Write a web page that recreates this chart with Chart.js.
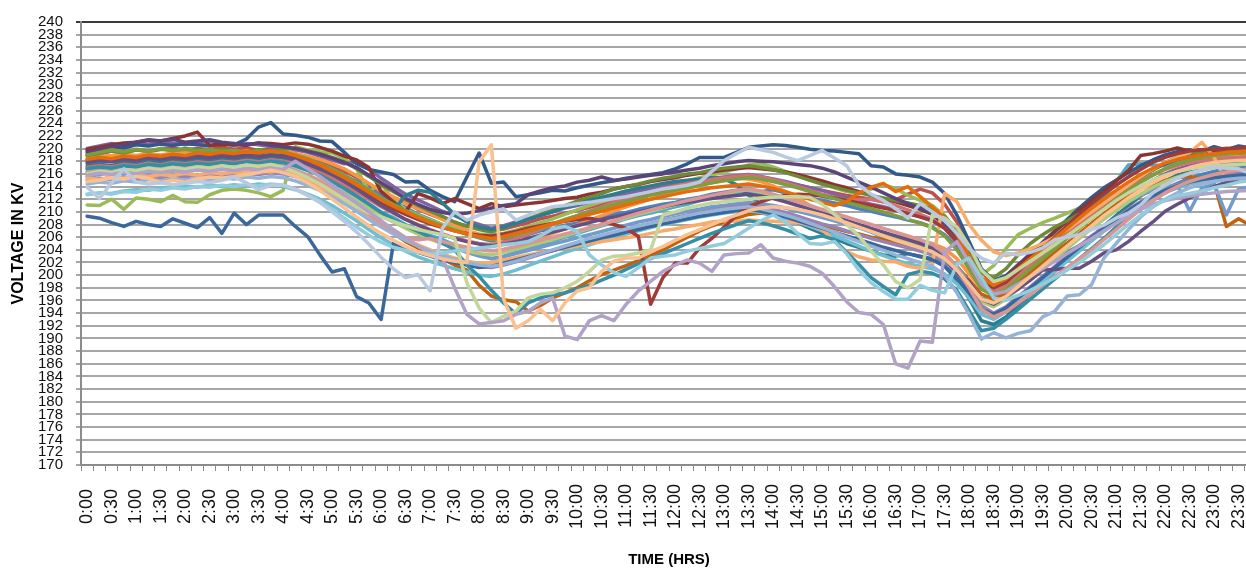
<!DOCTYPE html>
<html>
<head>
<meta charset="utf-8">
<script src="https://cdn.jsdelivr.net/npm/chart.js@4.4.0/dist/chart.umd.min.js"></script>
<style>
  html, body { margin: 0; padding: 0; background: #fff; overflow: hidden; }
  #wrap { position: absolute; left: 0; top: 0; width: 1257px; height: 569px; }
</style>
</head>
<body>
<div id="wrap"><canvas id="chart"></canvas></div>
<script>
const times = [
  '0:00','0:15','0:30','0:45','1:00','1:15','1:30','1:45','2:00','2:15','2:30','2:45',
  '3:00','3:15','3:30','3:45','4:00','4:15','4:30','4:45','5:00','5:15','5:30','5:45',
  '6:00','6:15','6:30','6:45','7:00','7:15','7:30','7:45','8:00','8:15','8:30','8:45',
  '9:00','9:15','9:30','9:45','10:00','10:15','10:30','10:45','11:00','11:15','11:30','11:45',
  '12:00','12:15','12:30','12:45','13:00','13:15','13:30','13:45','14:00','14:15','14:30','14:45',
  '15:00','15:15','15:30','15:45','16:00','16:15','16:30','16:45','17:00','17:15','17:30','17:45',
  '18:00','18:15','18:30','18:45','19:00','19:15','19:30','19:45','20:00','20:15','20:30','20:45',
  '21:00','21:15','21:30','21:45','22:00','22:15','22:30','22:45','23:00','23:15','23:30','23:45'
];

const yTicks = { min: 170, max: 240, step: 2 };

// one array per day (series), readings every 15 minutes
const v01 = [
  217.6,217.8,218.0,217.7,218.1,218.3,218.0,218.4,218.6,218.3,218.5,218.7,
  218.4,218.8,218.6,218.9,218.5,218.2,217.8,217.0,216.4,215.6,214.9,213.8,
  212.6,211.5,210.7,209.6,208.8,208.0,207.2,206.5,205.9,205.4,205.6,206.0,
  206.4,207.0,207.3,207.9,208.2,208.8,209.1,209.7,209.9,210.4,210.8,211.2,
  211.5,212.0,212.3,212.8,213.1,213.4,213.6,213.2,213.5,213.0,212.6,212.2,
  211.8,211.4,211.0,210.5,210.1,209.6,209.2,208.7,208.3,207.6,206.4,204.5,
  201.8,198.6,197.4,198.0,199.3,200.4,201.6,202.5,203.6,204.7,205.9,207.0,
  208.4,209.8,211.0,212.4,213.6,214.5,215.3,215.9,216.4,216.8,217.1,217.3
];
const v02 = [
  219.0,219.2,219.6,219.3,219.8,219.5,219.9,220.1,219.7,220.0,219.8,220.2,
  219.9,220.1,219.7,219.9,219.5,219.2,218.6,218.0,217.3,216.4,215.5,214.4,
  213.2,212.3,211.5,210.4,209.6,208.9,208.2,207.8,207.4,207.0,207.3,207.8,
  208.3,208.9,209.3,209.8,210.2,210.7,211.2,211.6,212.0,212.5,212.9,213.3,
  213.7,214.1,214.5,214.8,215.1,215.4,215.6,215.3,215.0,214.6,214.2,213.8,
  213.4,213.0,212.6,212.3,212.0,211.6,211.9,212.8,213.6,213.0,211.2,208.4,
  204.2,200.5,198.7,199.8,201.7,203.0,204.2,205.3,206.6,208.0,209.6,211.2,
  212.8,214.3,215.6,216.7,217.6,218.3,218.8,219.0,219.2,219.0,219.3,219.1
];
const v03 = [
  211.1,211.0,212.0,210.4,212.2,212.0,211.6,212.6,211.6,211.5,212.7,213.4,
  213.6,213.4,213.0,212.4,213.4,220.3,219.8,219.5,219.3,218.4,216.8,213.2,
  214.5,211.8,210.4,209.5,208.7,208.0,207.4,206.9,206.5,206.3,206.6,207.1,
  207.7,208.3,208.9,209.6,210.3,211.0,211.6,212.1,212.6,213.1,213.6,214.0,
  214.4,214.9,215.4,215.8,216.3,216.8,217.4,217.6,217.1,216.4,215.8,215.1,
  214.4,213.8,213.2,212.9,213.6,214.3,213.7,212.6,211.8,211.0,209.4,207.0,
  203.0,200.0,201.5,204.2,206.4,207.4,208.3,209.0,209.8,210.6,211.5,212.4,
  213.3,214.4,215.5,216.6,217.6,218.4,218.9,219.3,219.5,219.7,219.8,219.9
];
const v04 = [
  220.0,220.4,220.8,220.5,221.0,220.7,221.2,220.9,220.6,220.9,221.1,220.8,
  220.5,220.8,220.6,220.3,220.2,219.8,219.4,218.8,218.2,217.6,217.9,216.8,
  215.3,214.0,212.8,211.9,211.0,210.1,209.4,208.6,208.0,207.4,207.8,208.4,
  208.9,209.5,210.0,210.6,211.0,211.5,212.0,212.4,212.8,213.2,213.7,214.1,
  214.4,214.8,215.0,215.3,215.5,215.7,215.9,215.6,215.2,214.8,214.3,213.8,
  213.4,212.8,212.2,211.7,211.2,210.8,210.3,209.8,209.2,208.6,207.6,205.8,
  202.8,199.4,197.8,198.3,199.7,201.1,202.4,203.7,205.0,206.4,207.9,209.4,
  210.9,212.4,213.9,215.0,216.0,216.8,217.3,217.7,218.0,218.2,218.4,218.5
];
const v05 = [
  216.3,216.6,216.4,217.0,216.8,217.2,217.0,217.4,217.3,217.6,217.8,217.5,
  217.8,218.0,217.7,217.9,217.6,217.2,216.5,215.8,214.9,213.8,212.6,211.3,
  210.0,209.1,208.0,207.2,206.3,205.6,204.8,204.0,203.4,202.6,203.0,203.6,
  204.1,204.8,205.4,206.0,206.6,207.2,207.8,208.3,208.9,209.4,209.8,210.3,
  210.8,211.2,211.8,212.3,212.6,213.0,213.2,212.8,212.3,211.8,211.1,210.4,
  209.8,209.0,208.2,207.5,206.8,206.0,205.2,204.6,204.0,203.2,202.0,200.1,
  198.4,196.2,197.0,198.5,200.6,203.0,205.0,206.3,207.6,209.0,210.6,212.4,
  214.8,217.4,217.6,217.4,217.3,217.7,218.2,218.6,218.9,219.1,219.3,219.4
];
const v06 = [
  218.6,218.8,218.9,219.1,218.9,219.2,219.0,219.3,219.5,219.4,219.6,219.3,
  219.4,219.6,219.3,219.5,219.7,219.2,218.8,218.3,217.6,216.8,215.7,214.5,
  213.3,212.4,211.3,210.5,209.7,208.8,207.9,207.1,206.4,205.8,205.2,205.0,
  205.4,205.9,206.6,207.3,207.9,208.6,209.4,210.1,210.8,211.4,212.0,212.6,
  213.2,213.7,214.2,214.6,215.0,215.3,215.2,214.8,214.1,213.2,212.2,211.0,
  210.2,209.3,208.6,207.9,207.2,206.6,206.2,205.8,205.4,205.0,204.2,202.6,
  200.2,197.8,196.8,197.9,199.8,201.8,203.6,205.2,206.8,208.4,209.8,211.0,
  212.4,213.6,214.8,215.8,216.7,217.3,217.9,218.3,218.6,218.8,219.0,219.1
];
const v07 = [
  219.6,219.9,220.3,220.1,220.6,220.4,220.7,220.5,220.8,220.6,220.4,220.9,
  220.6,221.5,223.4,224.1,222.3,222.1,221.8,221.2,221.1,219.4,217.6,216.7,
  216.3,215.9,214.7,214.8,213.4,212.4,211.6,215.5,219.3,214.5,214.7,212.4,
  212.7,213.0,213.4,213.3,213.8,214.2,214.6,214.9,215.3,215.6,215.9,216.2,
  216.8,217.6,218.6,218.6,218.6,219.4,220.2,220.4,220.6,220.5,220.2,219.9,
  219.7,219.6,219.4,219.2,217.3,217.1,216.0,215.8,215.5,214.7,212.9,209.5,
  205.3,201.0,199.2,199.9,201.6,203.4,205.2,207.0,208.8,210.6,212.3,213.8,
  215.0,216.2,217.3,218.2,219.0,219.5,219.8,219.6,220.3,219.8,220.4,220.1
];
const v08 = [
  219.9,220.2,220.6,220.9,221.0,221.3,221.2,221.6,222.0,222.6,220.5,220.6,
  220.7,220.5,220.9,220.8,220.6,220.9,220.7,220.2,219.6,218.8,218.2,217.0,
  213.2,211.6,210.0,212.9,212.2,211.3,212.1,211.3,210.5,211.3,210.8,211.1,
  211.3,211.5,211.8,212.1,212.3,212.8,213.1,213.6,214.0,214.3,214.8,215.1,
  215.4,215.8,216.1,216.3,216.6,216.8,217.0,216.8,216.6,216.3,215.9,215.4,
  214.9,214.3,213.8,213.2,212.6,212.0,211.6,211.0,210.4,209.6,207.9,205.5,
  202.3,199.2,198.4,199.6,201.4,203.3,205.0,206.9,208.5,210.2,211.8,213.2,
  214.9,216.5,218.9,219.2,219.6,220.1,219.6,219.8,219.4,219.6,219.3,219.5
];
const v09 = [
  218.9,219.2,219.6,219.3,219.8,219.6,219.9,219.7,220.0,219.8,219.6,219.9,
  219.7,219.4,219.8,219.6,219.9,220.1,219.6,219.2,218.6,217.9,216.8,215.6,
  214.3,213.2,212.1,211.0,210.1,209.3,208.4,207.7,207.2,206.8,207.4,208.2,
  208.9,209.6,210.3,211.0,211.7,212.3,212.9,213.6,214.0,214.4,214.9,215.3,
  215.6,216.0,216.2,216.6,216.9,217.1,217.3,217.0,216.7,216.2,215.6,215.0,
  214.4,213.9,213.4,213.0,212.6,212.2,211.8,211.4,211.0,210.5,209.3,207.0,
  203.6,200.4,199.6,201.0,203.2,205.0,206.4,207.6,208.6,209.7,210.7,211.8,
  212.9,214.2,215.4,216.6,217.8,218.7,219.2,219.6,219.9,220.0,219.8,220.1
];
const v10 = [
  219.4,219.8,220.3,220.6,221.0,221.4,221.2,221.5,221.0,221.2,221.4,221.0,
  220.8,220.6,220.9,220.5,220.3,220.0,219.6,219.1,218.5,217.8,217.0,215.8,
  214.6,213.4,212.1,211.2,210.4,209.9,209.6,209.8,210.2,210.6,211.0,211.3,
  212.7,213.3,213.8,214.1,214.7,215.0,215.5,215.0,215.2,215.5,215.8,216.0,
  216.3,216.6,216.9,217.3,217.6,217.9,218.1,218.0,217.9,217.7,217.5,217.3,
  216.9,216.3,215.5,214.7,213.9,213.0,212.1,211.3,210.6,209.7,208.2,205.8,
  202.0,198.8,198.2,199.4,201.0,202.7,204.2,205.8,207.2,208.8,210.4,211.8,
  213.2,214.6,215.8,216.8,217.6,218.3,218.7,219.0,219.2,219.3,219.4,219.5
];
const v11 = [
  217.2,217.5,217.3,217.8,217.6,218.0,217.8,218.1,218.0,218.3,218.2,218.5,
  218.3,218.6,218.4,218.7,218.5,218.1,217.4,216.6,215.6,214.5,213.4,212.2,
  211.0,210.2,212.6,213.4,213.1,211.4,209.6,208.4,207.6,207.2,207.6,208.2,
  208.8,209.4,210.0,210.7,211.2,211.8,212.3,212.8,213.3,213.7,214.1,214.5,
  214.8,215.0,215.2,215.4,215.2,214.3,212.6,211.2,210.2,209.2,208.3,207.4,
  206.6,205.8,205.0,204.4,203.8,203.2,203.0,203.4,203.0,202.6,201.4,199.2,
  196.3,192.8,192.2,193.4,195.2,197.0,198.8,200.6,202.4,204.2,206.0,207.8,
  209.4,211.0,212.5,213.8,214.9,215.8,216.4,216.9,217.3,217.6,217.8,218.0
];
const v12 = [
  216.0,216.3,216.1,216.5,216.3,216.7,216.5,216.8,216.6,216.9,216.7,217.0,
  216.8,217.1,216.9,217.2,216.8,216.2,215.4,214.5,213.4,212.2,210.9,209.6,
  208.0,206.6,205.3,204.3,203.5,202.6,201.6,200.8,198.4,196.7,196.1,195.8,
  194.3,195.2,196.4,197.2,198.0,199.1,200.1,200.8,201.5,202.3,203.1,204.0,
  205.0,206.0,207.0,207.8,208.4,209.0,209.6,209.8,209.5,209.1,208.6,208.2,
  207.9,207.4,206.9,206.5,206.0,205.6,205.2,204.8,204.4,203.9,203.0,201.4,
  199.2,197.0,196.2,197.2,198.8,200.4,202.0,203.6,205.0,206.6,208.2,209.7,
  211.2,212.6,213.6,214.4,215.0,215.4,215.6,215.2,214.6,207.7,208.9,207.8
];
const v13 = [
  215.6,215.9,216.2,216.0,216.4,216.2,216.6,216.4,216.8,216.6,216.9,216.7,
  217.0,216.8,217.1,216.9,216.6,216.2,215.6,214.8,214.0,213.1,212.0,210.8,
  209.6,208.6,207.6,206.6,205.8,205.0,204.3,203.6,203.0,202.6,202.9,203.4,
  203.9,204.4,204.9,205.4,205.9,206.4,206.9,207.4,207.9,208.4,208.8,209.3,
  209.7,210.1,210.4,210.8,211.0,211.3,211.5,211.3,211.0,210.6,210.1,209.6,
  209.1,208.6,208.0,207.5,207.0,206.5,206.0,205.5,205.0,204.5,203.4,201.4,
  198.8,196.2,195.4,196.4,198.0,199.6,201.2,202.8,204.4,206.0,207.6,209.0,
  210.4,211.6,212.6,213.4,214.0,214.2,210.1,213.8,214.4,209.5,213.6,214.0
];
const v14 = [
  217.0,217.3,217.1,217.5,217.3,217.7,217.4,217.8,217.6,217.9,217.7,218.0,
  217.8,218.1,217.9,218.2,218.0,217.6,217.0,216.2,215.3,214.3,213.2,212.0,
  210.8,209.8,208.8,208.0,207.2,206.5,205.9,205.4,205.0,204.8,205.2,205.8,
  206.5,207.2,208.0,208.7,209.4,210.1,210.8,211.5,212.1,212.7,213.2,213.7,
  214.1,214.5,214.8,215.1,215.4,215.6,215.8,215.5,215.1,214.6,214.0,213.4,
  212.8,212.3,211.8,211.9,212.0,211.6,211.0,210.3,209.6,208.8,207.4,205.2,
  202.2,198.9,197.6,198.4,200.0,201.6,203.2,204.8,206.4,208.0,209.6,211.0,
  212.4,213.7,214.9,215.9,216.8,217.4,217.8,218.1,218.3,218.5,218.6,218.7
];
const v15 = [
  216.6,216.3,216.8,216.5,217.0,216.8,217.2,217.0,216.8,217.1,217.4,217.2,
  217.0,217.3,217.5,217.2,217.0,216.5,215.8,215.0,214.1,213.0,211.8,210.6,
  209.3,208.4,207.4,206.5,205.7,205.0,204.3,203.8,203.4,203.2,203.6,204.1,
  204.6,205.1,205.6,206.2,206.8,207.4,207.9,208.5,209.0,209.6,210.1,210.6,
  211.1,211.6,212.0,212.4,212.8,213.3,213.5,213.1,212.6,212.0,211.4,210.6,
  209.8,209.0,208.3,207.6,207.0,206.4,205.8,205.2,204.6,203.9,202.8,201.0,
  198.6,195.8,195.0,196.2,197.8,199.4,201.0,202.6,204.2,205.8,207.4,208.8,
  210.2,211.6,212.8,213.9,214.8,215.5,216.1,216.6,217.0,217.3,217.5,217.6
];
const v16 = [
  215.0,215.3,215.1,215.5,215.2,215.6,215.4,215.8,215.5,215.9,215.7,216.0,
  215.8,216.1,215.9,216.2,216.0,215.6,214.9,214.1,213.1,212.0,210.8,209.4,
  208.0,206.8,205.7,204.7,203.8,203.0,202.4,201.8,201.4,201.2,201.6,202.1,
  202.7,203.3,203.9,204.5,205.0,205.6,206.2,206.7,207.2,207.7,208.2,208.7,
  209.1,209.5,209.9,210.3,210.6,210.9,211.1,210.8,210.4,209.9,209.3,208.7,
  208.1,207.6,207.0,206.4,205.8,205.3,204.8,204.3,203.8,203.2,202.2,200.4,
  198.0,195.2,194.0,195.0,196.6,198.2,199.8,201.4,203.0,204.6,206.2,207.6,
  209.0,210.4,211.6,212.7,213.6,214.3,214.9,215.3,215.6,215.9,216.1,216.2
];
const v17 = [
  212.8,213.0,212.9,213.3,213.5,213.4,213.8,213.9,214.1,213.9,214.2,214.0,
  214.3,214.1,214.4,214.2,214.0,213.5,212.8,212.0,211.0,209.8,208.6,207.2,
  205.9,204.8,203.8,202.9,202.2,201.6,201.0,200.5,200.0,199.8,200.2,200.8,
  201.5,202.2,202.9,203.6,204.2,204.8,205.4,206.0,206.5,207.0,207.5,208.0,
  208.4,208.8,209.2,209.5,209.8,210.0,210.2,209.9,209.5,209.0,208.4,207.7,
  207.0,206.2,205.4,204.6,203.8,203.1,202.4,201.8,201.4,201.0,200.2,198.6,
  196.4,193.8,193.0,194.2,195.8,197.4,199.0,200.6,202.2,203.8,205.4,206.9,
  208.4,209.8,211.1,212.2,213.1,213.8,214.4,214.8,215.1,215.3,215.5,215.6
];
const v18 = [
  215.4,215.1,215.6,215.3,215.8,215.5,215.9,215.7,216.1,215.8,216.2,216.0,
  216.3,216.1,216.5,216.3,216.8,216.0,215.1,214.0,212.8,211.5,210.2,209.0,
  207.8,206.7,205.7,204.8,204.0,203.3,202.7,202.2,201.9,202.0,202.4,202.8,
  203.2,203.6,203.9,204.3,204.6,205.0,205.3,205.6,205.9,206.2,206.6,207.0,
  207.3,207.7,208.0,208.4,208.6,208.5,208.7,208.6,208.5,208.4,208.3,208.0,
  207.2,205.3,203.7,202.9,202.4,202.2,202.1,201.4,201.1,201.7,212.9,211.6,
  208.0,205.5,203.7,203.1,203.5,204.2,205.0,206.0,207.2,208.6,210.0,211.4,
  212.8,214.2,215.6,216.8,217.8,218.6,219.4,221.0,218.6,214.8,215.0,215.2
];
const v19 = [
  209.3,209.0,208.3,207.7,208.5,208.0,207.7,208.9,208.2,207.5,209.1,206.6,
  209.8,208.0,209.5,209.5,209.5,207.7,206.1,203.2,200.5,201.0,196.6,195.6,
  193.0,205.0,204.2,203.6,203.0,202.4,202.0,201.6,201.2,201.4,201.9,202.4,
  202.9,203.4,203.9,204.4,204.9,205.4,205.9,206.3,206.8,207.2,207.7,208.1,
  208.5,208.9,209.3,209.6,209.9,210.2,210.4,210.1,209.7,209.2,208.6,208.0,
  207.4,206.8,206.2,205.6,205.0,204.4,203.9,203.4,202.9,202.4,201.4,199.6,
  197.2,194.6,193.8,194.8,196.4,198.0,199.6,201.2,202.8,204.4,206.0,207.4,
  208.8,210.2,211.4,212.5,213.4,214.1,214.7,215.1,215.4,215.6,215.8,215.9
];
const v20 = [
  218.2,218.5,218.3,218.7,218.5,218.9,218.7,219.0,218.8,219.1,218.9,219.2,
  219.0,219.3,219.1,219.4,219.1,218.6,217.9,217.1,216.1,215.0,213.9,212.6,
  211.4,210.5,209.6,208.8,208.1,207.5,207.0,206.6,206.3,206.2,206.5,206.9,
  207.4,207.8,208.2,208.5,208.8,209.0,208.6,208.0,207.4,206.1,195.4,199.6,
  201.9,201.9,204.3,205.8,207.6,209.4,210.8,211.6,212.2,212.6,212.8,212.7,
  212.5,212.2,211.8,211.4,211.0,210.6,210.2,209.7,209.2,208.6,207.4,205.3,
  202.4,199.2,198.0,198.9,200.6,202.4,204.2,206.0,207.8,209.6,211.3,212.8,
  214.2,215.5,216.7,217.8,218.6,219.2,219.6,219.8,219.9,220.0,220.1,220.2
];
const v21 = [
  219.0,219.4,219.8,219.5,219.9,219.6,220.0,219.7,219.9,219.6,219.8,219.5,
  219.7,219.4,219.6,219.3,219.5,219.0,218.4,217.6,216.8,215.8,214.7,213.5,
  212.2,211.2,210.2,209.3,208.5,207.8,207.1,206.5,206.0,205.6,205.9,206.4,
  206.9,207.5,208.1,208.8,209.4,210.0,210.6,211.1,211.6,212.1,212.6,213.0,
  213.4,213.8,214.2,214.6,214.9,215.2,215.4,215.2,214.8,214.3,213.8,213.2,
  212.6,212.1,211.5,211.0,210.5,210.0,209.4,208.8,208.2,207.5,206.2,204.0,
  201.0,197.8,196.8,197.8,199.4,201.0,202.6,204.2,205.8,207.4,209.0,210.5,
  212.0,213.4,214.7,215.8,216.8,217.6,218.2,218.6,218.9,219.1,219.3,219.4
];
const v22 = [
  217.8,218.1,217.9,218.3,218.1,218.5,218.3,218.6,218.4,218.7,218.5,218.8,
  218.6,218.9,218.7,219.0,218.8,218.3,217.6,216.8,215.9,214.8,213.6,212.3,
  211.0,209.9,208.8,207.9,207.1,206.4,205.8,205.3,204.9,204.6,204.9,205.3,
  205.8,206.3,206.8,207.3,207.8,208.3,208.8,209.2,209.6,210.0,210.4,210.8,
  211.2,211.5,211.8,212.1,212.4,212.6,212.8,212.5,212.1,211.6,211.0,210.4,
  209.8,209.2,208.6,208.0,207.4,206.8,206.2,205.6,205.0,204.2,202.6,200.4,
  199.0,196.2,195.4,196.6,197.8,199.2,200.8,200.9,201.1,201.1,202.2,203.5,
  204.0,205.3,206.9,208.4,210.1,211.2,212.2,213.2,214.0,214.7,215.2,215.6
];
const v23 = [
  216.8,217.1,216.9,217.3,217.1,217.5,217.3,217.6,217.4,217.7,217.5,217.8,
  217.6,217.9,217.7,218.0,217.8,217.3,216.6,215.8,214.8,213.7,212.5,211.2,
  209.9,208.8,207.8,206.9,206.0,205.1,204.0,201.6,199.8,197.6,195.6,193.9,
  195.6,196.4,196.9,197.2,197.8,198.4,199.2,200.0,200.9,201.8,202.6,203.4,
  204.2,205.0,205.8,206.6,207.3,208.0,208.6,208.3,207.8,207.2,206.5,205.8,
  206.2,205.6,203.6,201.7,199.6,198.2,196.9,200.1,200.6,200.3,199.4,197.6,
  194.4,191.2,191.6,193.0,194.6,196.2,197.8,199.4,201.0,202.6,204.2,205.8,
  207.6,209.1,210.5,211.8,213.0,214.0,214.8,215.5,216.0,216.4,216.7,216.9
];
const v24 = [
  218.3,218.6,218.4,218.8,218.6,219.0,218.8,219.1,218.9,219.3,219.1,219.4,
  219.2,219.5,219.3,219.6,219.4,218.9,218.2,217.4,216.4,215.4,214.3,213.1,
  211.9,210.9,210.0,209.1,208.3,207.6,207.0,206.5,206.1,205.8,206.1,206.6,
  207.1,207.6,208.1,208.6,209.1,209.6,210.1,210.6,211.1,211.6,212.0,212.4,
  212.8,213.2,213.5,213.8,214.0,214.2,214.4,214.1,213.7,213.2,212.6,212.0,
  211.5,211.0,211.6,213.0,213.9,214.5,213.2,214.0,212.4,210.8,209.0,206.4,
  203.0,199.6,198.4,199.4,201.0,202.6,204.2,205.8,207.4,209.0,210.6,212.0,
  213.4,214.7,215.9,216.9,217.7,218.3,218.7,219.0,219.2,219.4,219.5,219.6
];
const v25 = [
  214.4,214.7,214.5,214.9,214.7,215.1,214.9,215.2,215.0,215.3,215.1,215.4,
  215.2,215.5,215.3,215.6,215.4,214.9,214.2,213.4,212.4,211.3,210.1,208.8,
  207.6,206.5,205.5,204.6,203.8,203.1,202.5,202.0,201.6,201.4,201.7,202.2,
  202.8,203.4,204.0,204.6,205.2,205.8,206.3,206.8,207.3,207.8,208.2,208.6,
  209.0,209.4,209.8,210.1,210.4,210.6,210.8,210.5,210.0,209.5,208.9,208.2,
  207.5,206.8,206.0,205.3,204.6,203.9,203.2,202.6,202.0,201.4,200.0,197.2,
  193.8,189.9,190.9,190.1,190.8,191.2,193.4,194.3,196.7,196.9,198.5,202.7,
  205.0,207.2,209.2,210.8,212.0,213.0,213.8,214.4,214.8,215.1,215.3,215.4
];
const v26 = [
  216.2,216.5,216.3,216.7,216.5,216.9,216.7,217.0,216.8,217.1,216.9,217.2,
  217.0,217.3,217.1,217.4,217.2,216.6,215.8,214.8,213.6,212.3,211.0,209.6,
  208.2,207.0,205.9,205.6,205.8,205.3,204.8,204.4,204.0,203.8,204.1,204.5,
  205.0,205.5,206.0,206.5,207.0,207.5,208.0,208.6,209.2,209.8,210.3,210.8,
  211.3,211.8,212.2,212.6,213.0,213.4,213.6,213.3,212.8,212.2,211.6,211.0,
  210.4,209.8,209.2,208.6,208.0,207.4,206.8,206.2,205.6,204.9,203.6,201.2,
  198.0,194.6,193.4,194.2,195.6,197.0,198.4,199.8,201.2,202.6,204.0,205.6,
  207.2,208.8,210.4,211.8,213.0,214.0,214.8,215.4,215.9,216.3,216.6,216.8
];
const v27 = [
  216.0,216.4,216.2,216.7,216.5,216.9,216.6,217.0,216.7,217.1,216.9,217.3,
  217.0,217.4,217.2,217.5,217.0,216.3,215.4,214.4,213.2,212.0,210.8,209.8,
  209.2,208.5,207.8,207.2,206.8,206.4,205.8,198.8,194.8,192.5,193.5,194.3,
  196.4,197.0,197.2,198.0,199.0,200.6,202.4,203.0,203.1,203.5,204.0,209.5,
  210.0,210.6,211.0,211.4,211.6,211.8,212.0,212.2,212.3,212.4,212.4,212.3,
  211.2,209.6,208.0,206.2,203.8,201.6,199.0,198.0,199.3,209.5,209.0,207.6,
  204.6,200.8,199.0,199.6,200.9,202.2,203.5,204.8,206.2,207.6,209.0,210.4,
  211.8,213.0,214.1,215.0,215.8,216.4,216.8,217.1,217.3,217.4,217.5,217.6
];
const v28 = [
  215.8,216.1,215.9,216.3,216.0,216.4,216.2,216.5,216.3,216.6,216.4,216.7,
  216.5,216.8,216.6,216.9,216.7,218.0,216.8,215.6,214.2,212.8,211.4,210.0,
  208.6,207.2,205.9,204.6,203.4,202.7,198.0,193.8,192.3,192.5,192.8,193.8,
  194.3,195.6,196.4,190.4,189.8,192.8,193.6,192.8,195.4,197.5,199.0,200.6,
  201.6,202.4,201.9,200.6,203.2,203.4,203.5,204.8,202.7,202.2,201.9,201.4,
  200.3,198.2,195.8,194.1,193.8,192.2,186.0,185.3,189.6,189.4,203.7,205.3,
  202.0,198.6,197.0,197.4,198.6,199.8,201.0,202.2,203.4,204.6,205.8,207.0,
  208.2,209.4,210.4,211.2,211.8,212.2,212.5,212.8,213.0,213.2,213.3,213.4
];
const v29 = [
  212.7,213.0,212.8,213.2,213.1,213.6,213.4,213.8,213.6,214.0,213.9,214.2,
  214.0,214.3,214.1,214.4,214.2,213.6,212.7,211.7,210.4,209.0,207.6,206.3,
  205.2,204.4,203.9,203.6,203.4,203.5,203.8,204.0,204.3,204.5,204.8,205.0,
  205.3,206.2,207.3,207.7,206.9,203.2,201.6,200.4,199.8,201.2,202.7,203.0,
  203.2,203.8,204.2,204.6,205.0,206.2,207.4,208.6,209.5,208.4,206.6,205.0,
  204.9,205.3,203.4,200.8,198.8,197.4,196.2,196.2,198.4,197.6,197.2,201.7,
  202.7,199.6,196.4,196.0,196.8,197.6,198.6,199.6,200.8,202.0,203.4,204.8,
  206.4,208.0,209.5,210.8,211.9,212.6,212.9,213.3,213.8,214.2,214.7,214.9
];
const v30 = [
  214.8,215.0,215.4,215.2,215.6,215.3,214.6,215.0,214.7,215.2,215.5,215.3,
  215.6,215.9,216.2,216.6,216.2,215.6,214.6,213.4,212.0,210.6,209.2,207.8,
  206.6,205.5,204.5,203.7,203.1,202.6,202.2,202.0,217.9,220.6,196.2,191.6,
  192.8,194.6,192.8,195.6,197.5,198.0,200.6,202.2,202.7,202.7,203.7,204.5,
  205.5,206.4,207.2,208.0,208.8,209.5,210.2,210.6,210.8,210.7,210.4,210.0,
  209.5,208.9,208.3,207.6,206.9,206.2,205.5,204.9,204.3,203.7,202.6,200.8,
  198.6,196.2,195.6,196.6,198.2,199.8,201.4,203.0,204.6,206.2,207.8,209.4,
  210.8,212.2,213.5,214.6,215.6,216.4,217.0,217.5,217.8,218.0,218.1,218.2
];
const v31 = [
  213.9,212.1,214.6,216.8,214.7,214.4,214.6,214.3,214.5,214.8,214.6,215.0,
  215.5,214.6,213.5,214.2,214.2,213.6,212.6,211.5,210.0,208.5,206.8,204.9,
  202.8,201.0,199.6,200.1,197.5,207.4,210.0,208.7,209.5,210.0,210.5,208.7,
  209.5,210.2,210.8,211.0,211.3,211.5,211.8,212.1,212.4,212.8,213.2,213.6,
  213.9,214.2,214.7,216.4,218.1,219.2,220.2,219.8,219.4,218.7,218.1,218.9,
  219.7,218.5,217.3,214.2,212.8,211.8,210.5,209.0,211.3,210.0,208.6,206.6,
  204.2,202.7,201.9,203.5,203.2,203.6,204.3,205.6,206.0,206.4,207.2,207.9,
  209.0,209.8,211.1,213.0,214.2,215.3,216.1,216.6,217.1,216.9,216.8,216.0
];

const seriesData = [v01, v02, v03, v04, v05, v06, v07, v08, v09, v10, v11, v12, v13, v14, v15, v16,
  v17, v18, v19, v20, v21, v22, v23, v24, v25, v26, v27, v28, v29, v30, v31];

const seriesColors = [
  '#4F81BD', '#C0504D', '#9BBB59', '#8064A2', '#4BACC6', '#F79646',
  '#31598A', '#8B3431', '#6F8A37', '#5A4478', '#2E7C90', '#C0620E',
  '#729ACA', '#CD7371', '#AFC97A', '#9983B5', '#6FBDD1', '#F9AB6B',
  '#3A679C', '#9F3B38', '#7E9D40', '#664F83', '#358EA6', '#E46C0A',
  '#95B3D7', '#D99694', '#C3D69B', '#B3A2C7', '#93CDDD', '#FAC090',
  '#B9C9E0'
];

const datasets = seriesData.map((data, i) => ({
  label: 'Day ' + (i + 1),
  data: data,
  borderColor: seriesColors[i],
  backgroundColor: seriesColors[i],
  borderWidth: 3.5,
  pointRadius: 0,
  tension: 0,
  borderJoinStyle: 'round',
  borderCapStyle: 'round',
  order: seriesData.length - i, // later days drawn on top
}));

// rotated labels are centred in the label band: pad the short ones
function timeLabel(v, i) {
  if (i % 2 !== 0) return '';
  const t = times[i];
  return t.length === 4 ? t + ' ' : t;
}

new Chart(document.getElementById('chart'), {
  type: 'line',
  data: { labels: times, datasets: datasets },
  options: {
    responsive: true,
    maintainAspectRatio: false,
    animation: false,
    layout: { padding: { top: 19, right: 0, bottom: 0, left: 0 } },
    plugins: { legend: { display: false }, tooltip: { enabled: false } },
    scales: {
      x: {
        offset: true,
        grid: { offset: true, drawOnChartArea: false, drawTicks: true, tickLength: 6, tickColor: '#8c8c8c', lineWidth: 1 },
        border: { display: true, color: '#8c8c8c', width: 2 },
        ticks: {
          autoSkip: false, minRotation: 90, maxRotation: 90, padding: 13, color: '#111',
          font: { family: 'Liberation Sans', size: 18 },
          callback: timeLabel,
        },
        title: {
          display: true, text: 'TIME (HRS)', color: '#000',
          font: { family: 'Liberation Sans', size: 15, weight: 'bold' },
          padding: { top: 0, bottom: 0 },
        },
        afterFit: (s) => {
          s.height = 104;
          // the plot runs off the right edge of the picture, like the original
          s.paddingLeft = 0;
          s.paddingRight = 0;
        },
      },
      y: {
        min: yTicks.min,
        max: yTicks.max,
        ticks: {
          stepSize: yTicks.step, autoSkip: false, padding: 13, color: '#111',
          font: { family: 'Liberation Sans', size: 15 },
        },
        grid: {
          color: (c) => (c.tick && c.tick.value === yTicks.max ? '#3a3a3a' : '#a6a6a6'),
          lineWidth: 2, tickLength: 5, drawTicks: true,
        },
        border: { display: true, color: '#8c8c8c', width: 2 },
        title: {
          display: true, text: 'VOLTAGE IN KV', color: '#000',
          font: { family: 'Liberation Sans', size: 16, weight: 'bold' },
          padding: { top: 9, bottom: 0 },
        },
        afterFit: (s) => { s.width = 81; },
      },
    },
  },
});
</script>
</body>
</html>
